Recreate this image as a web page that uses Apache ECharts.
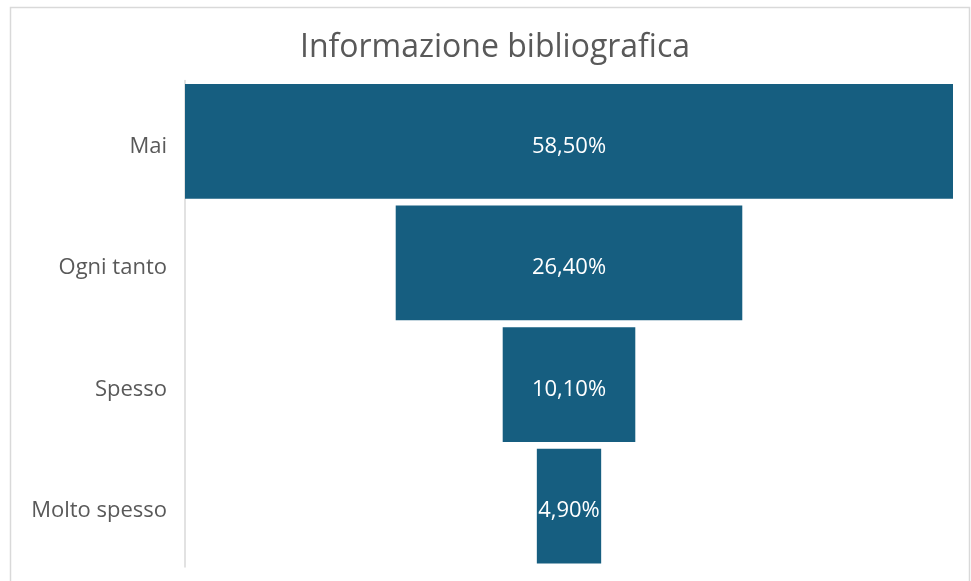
<!DOCTYPE html>
<html>
<head>
<meta charset="utf-8">
<script src="https://cdn.jsdelivr.net/npm/echarts@6/dist/echarts.min.js"></script>
<style>
  html, body { margin: 0; padding: 0; background: #fff; }
  #chart-container { width: 971px; height: 581px; }
</style>
</head>
<body>
<div id="chart-container"></div>
<script>
// categorie e valori (percentuali)
var categories = ['Mai', 'Ogni tanto', 'Spesso', 'Molto spesso'];
var values = [58.5, 26.4, 10.1, 4.9];
var valueLabels = ['58,50%', '26,40%', '10,10%', '4,90%'];

var maxValue = Math.max.apply(null, values);
// spazio vuoto a sinistra per centrare le barre (imbuto)
var offsets = values.map(function (v) { return (maxValue - v) / 2; });

var myChart = echarts.init(document.getElementById('chart-container'));
myChart.setOption({
    backgroundColor: '#ffffff',
    animation: false,
    title: {
        text: 'Informazione bibliografica',
        left: 490,
        textAlign: 'center',
        top: 27,
        textStyle: {
            color: '#595959',
            fontFamily: 'Open Sans',
            fontSize: 32,
            fontWeight: 'normal'
        }
    },
    graphic: [{
        type: 'rect',
        shape: { x: 10.5, y: 7.5, width: 959, height: 590 },
        style: { fill: 'none', stroke: '#d9d9d9', lineWidth: 1.5 },
        silent: true
    }],
    grid: {
        left: 185,
        right: 18,
        top: 80.5,
        bottom: 14
    },
    xAxis: {
        type: 'value',
        min: 0,
        max: maxValue,
        show: false
    },
    yAxis: {
        type: 'category',
        data: categories,
        inverse: true,
        axisLine: { show: true, lineStyle: { color: '#d9d9d9', width: 1.5 } },
        axisTick: { show: false },
        axisLabel: {
            margin: 18,
            formatter: function (v) { return '{a|' + v + '}'; },
            rich: {
                a: {
                    color: '#595959',
                    fontFamily: 'Open Sans',
                    fontSize: 22,
                    padding: [10, 0, 0, 0]
                }
            }
        }
    },
    series: [
        {
            name: 'offset',
            type: 'bar',
            stack: 'funnel',
            data: offsets,
            itemStyle: { color: 'transparent' },
            silent: true,
            barCategoryGap: '5.75%'
        },
        {
            name: 'valore',
            type: 'bar',
            stack: 'funnel',
            data: values,
            barCategoryGap: '5.75%',
            itemStyle: { color: '#165e80' },
            label: {
                show: true,
                position: 'inside',
                offset: [0, 5],
                color: '#ffffff',
                fontFamily: 'Open Sans',
                fontSize: 22,
                formatter: function (p) { return valueLabels[p.dataIndex]; }
            }
        }
    ]
});
</script>
</body>
</html>
